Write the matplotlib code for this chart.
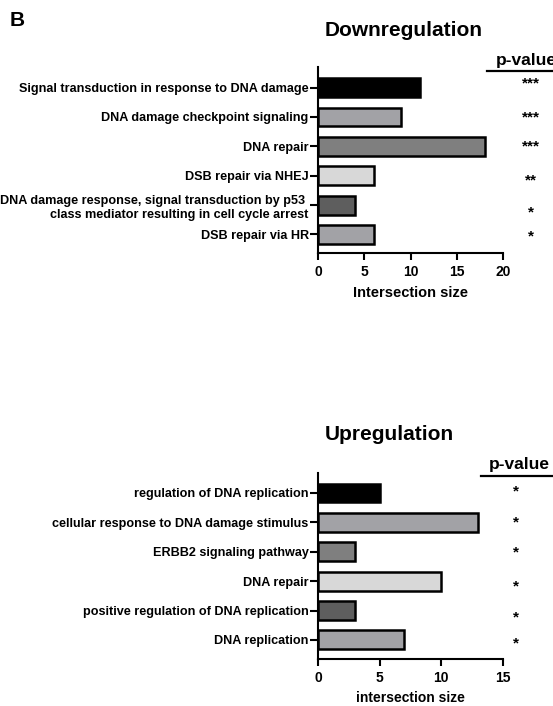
import matplotlib
matplotlib.use("Agg")
import matplotlib.pyplot as plt
from matplotlib.lines import Line2D

plt.rcParams['font.family'] = ['Liberation Sans', 'DejaVu Sans']
plt.rcParams['font.weight'] = 'bold'

# ---- data ----
down_terms = [
    "Signal transduction in response to DNA damage",
    "DNA damage checkpoint signaling",
    "DNA repair",
    "DSB repair via NHEJ",
    "DNA damage response, signal transduction by p53 \nclass mediator resulting in cell cycle arrest",
    "DSB repair via HR",
]
down_sizes = [11, 9, 18, 6, 4, 6]
down_pvals = ["***", "***", "***", "**", "*", "*"]

up_terms = [
    "regulation of DNA replication",
    "cellular response to DNA damage stimulus",
    "ERBB2 signaling pathway",
    "DNA repair",
    "positive regulation of DNA replication",
    "DNA replication",
]
up_sizes = [5, 13, 3, 10, 3, 7]
up_pvals = ["*", "*", "*", "*", "*", "*"]

bar_colors = ["#000000", "#a2a2a6", "#7f7f7f", "#d8d8d8", "#5e5e5e", "#a2a2a6"]

# ---- layout (figure pixels) ----
W, H = 553, 706
fig = plt.figure(figsize=(W / 100, H / 100), dpi=100)


def add_px_axes(left, top, right, bottom):
    return fig.add_axes([left / W, 1 - bottom / H, (right - left) / W, (bottom - top) / H])


def fig_text(x, y, s, **kw):
    return fig.text(x / W, 1 - y / H, s, **kw)


def draw_panel(ax, terms, sizes, xmax, ylim, xlabel, xlabel_size, xlabel_y):
    ypos = list(range(len(terms)))
    ax.barh(ypos, sizes, height=0.64, color=bar_colors, edgecolor="black",
            linewidth=1.8, zorder=3)
    ax.set_yticks(ypos)
    ax.set_yticklabels(terms, fontsize=9.05, fontweight="bold", linespacing=1.3)
    ax.set_ylim(*ylim)
    ax.set_xlim(0, xmax)
    ax.set_xticks(range(0, xmax + 1, 5))
    ax.tick_params(axis="x", length=5, width=1.5, pad=3.5, labelsize=10)
    ax.tick_params(axis="y", length=5.5, width=1.5, pad=1.2)
    for lbl in ax.get_xticklabels():
        lbl.set_fontweight("bold")
    for side in ("top", "right"):
        ax.spines[side].set_visible(False)
    for side in ("left", "bottom"):
        ax.spines[side].set_linewidth(1.5)
    ax.set_xlabel(xlabel, fontsize=xlabel_size, fontweight="bold")
    ax.xaxis.label.set_va("center")
    bbox_h = ax.get_position().height * H
    ax.xaxis.set_label_coords(0.5, -xlabel_y / bbox_h)


# Downregulation panel
ax1 = add_px_axes(318, 67, 503, 253)
draw_panel(ax1, down_terms, down_sizes, 20, (5.63, -0.70),
           "Intersection size", 10.5, 40)

# Upregulation panel
ax2 = add_px_axes(318, 473, 503, 659)
draw_panel(ax2, up_terms, up_sizes, 15, (5.65, -0.68),
           "intersection size", 10, 39)

# panel letter and titles
fig_text(10, 21, "B", fontsize=15, fontweight="bold", ha="left", va="center")
fig_text(325, 31, "Downregulation", fontsize=15, fontweight="bold", ha="left", va="center")
fig_text(325, 434, "Upregulation", fontsize=15, fontweight="bold", ha="left", va="center")

# p-value columns
def pvalue_column(x_head, y_head, line_x0, line_y, star_x, star_ys, stars):
    fig_text(x_head, y_head, "p-value", fontsize=12.5, fontweight="bold",
             ha="left", va="center")
    fig.add_artist(Line2D([line_x0 / W, 1.0], [1 - line_y / H, 1 - line_y / H],
                          color="black", linewidth=1.6))
    for y, s in zip(star_ys, stars):
        fig_text(star_x, y + 0.5, s, fontsize=11, fontweight="bold",
                 ha="center", va="center")


pvalue_column(496, 60, 487, 71, 531, [83, 117, 146, 180, 212, 236], down_pvals)
pvalue_column(489, 465, 481, 476, 516, [491, 522, 552, 586, 617, 643], up_pvals)

fig.savefig("out.png", dpi=100)
